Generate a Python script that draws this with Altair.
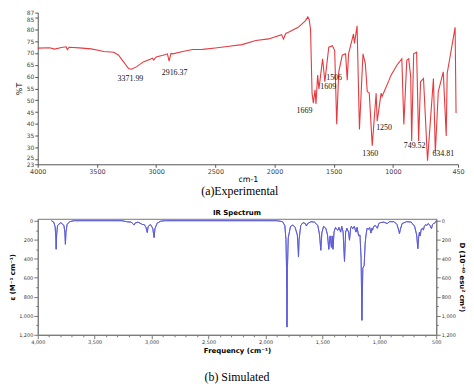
import altair as alt
import pandas as pd

# ---------- Experimental spectrum ----------
exp_wn = [4000, 3900, 3858, 3800, 3760, 3750, 3735, 3650, 3550, 3480, 3442, 3358, 3317, 3275,
          3233, 3208, 3167, 3108, 3050, 3030, 3020, 3000, 2942, 2905, 2890, 2875, 2858, 2775,
          2692, 2608, 2500, 2383, 2275, 2158, 2050, 1940, 1925, 1905, 1883, 1800, 1740, 1719,
          1708, 1696, 1683, 1672, 1658, 1650, 1636, 1625, 1594, 1575, 1542, 1511, 1492, 1475,
          1458, 1428, 1400, 1386, 1375, 1333, 1325, 1303, 1283, 1253, 1233, 1217, 1200, 1175,
          1142, 1133, 1100, 1092, 1033, 1017, 967, 925, 908, 883, 867, 850, 842, 825, 800, 783,
          767, 742, 708, 658, 642, 617, 575, 550, 542, 475, 467]
exp_t = [72.0, 72.2, 71.6, 72.3, 72.6, 71.4, 72.4, 72.1, 71.7, 71.0, 70.6, 70.3, 69.0, 66.2,
         63.4, 63.1, 64.1, 66.2, 67.3, 67.8, 67.0, 68.3, 69.0, 69.6, 66.5, 69.8, 69.6, 70.6,
         71.4, 71.5, 72.1, 72.8, 73.5, 75.2, 75.9, 77.7, 75.8, 78.2, 78.7, 80.8, 83.5, 85.2,
         84.2, 80.0, 52.8, 48.8, 54.4, 48.5, 60.7, 54.8, 67.5, 57.8, 72.4, 73.0, 71.0, 39.9,
         62.0, 69.0, 69.6, 58.5, 69.6, 78.0, 74.0, 81.4, 37.7, 69.6, 65.4, 53.7, 53.0, 30.8,
         53.0, 41.2, 53.0, 51.6, 58.5, 60.5, 64.8, 67.5, 39.8, 66.9, 67.5, 60.0, 32.8, 69.6, 70.3, 32.8,
         57.8, 59.2, 24.5, 59.2, 28.0, 53.7, 62.0, 34.9, 61.3, 80.8, 44.6]

lab_text = ["3371.99", "2916.37", "1669", "1609", "1506", "1250", "1360", "749.52", "634.81"]
lab_wn = [3217, 2844, 1747, 1547, 1497, 1075, 1192, 817, 575]
lab_t = [58.8, 61.3, 45.3, 55.5, 59.6, 38.1, 27.5, 30.5, 27.5]

exp_xticks = [4000, 3500, 3000, 2500, 2000, 1500, 1000, 450]
exp_yticks = [23, 25, 30, 35, 40, 45, 50, 55, 60, 65, 70, 75, 80, 85, 87]

# ---------- Simulated spectrum ----------
sim_wn = [3880, 3860, 3848, 3842, 3838, 3834, 3826, 3797, 3770, 3762, 3757, 3752, 3742, 3720,
          3680, 3260, 3230, 3212, 3180, 3165, 3154, 3145, 3120, 3095, 3080, 3065, 3050, 3038,
          3030, 3010, 2990, 2978, 2970, 2950, 2920, 2880, 1900, 1850, 1830, 1820, 1815, 1811,
          1807, 1800, 1780, 1760, 1740, 1720, 1713, 1710, 1705, 1690, 1670, 1650, 1640, 1630,
          1600, 1570, 1540, 1525, 1514, 1505, 1490, 1470, 1455, 1444, 1432, 1421, 1414, 1407,
          1398, 1385, 1375, 1364, 1355, 1340, 1330, 1318, 1306, 1296, 1285, 1270, 1262, 1252,
          1245, 1234, 1220, 1205, 1195, 1182, 1170, 1160, 1153, 1145, 1133, 1125, 1118, 1108,
          1095, 1085, 1074, 1066, 1060, 1050, 1035, 1017, 1005, 990, 960, 931, 910, 870, 845,
          830, 823, 815, 800, 760, 720, 690, 672, 662, 655, 648, 641, 632, 620, 613, 605, 592,
          584, 570, 555, 545, 541, 533, 525, 517, 505, 500]
sim_d = [0, 15, 60, 150, 300, 150, 50, 20, 50, 120, 248, 120, 40, 10,
         0, 0, 8, 12, 15, 30, 46, 25, 15, 30, 40, 40, 70, 124,
         60, 40, 80, 177, 80, 25, 5, 0, 0, 10, 50, 200, 500, 1119,
         500, 180, 60, 45, 70, 150, 300, 382, 200, 50, 20, 30, 56, 30,
         10, 15, 50, 150, 311, 130, 60, 80, 150, 301, 160, 280, 160, 300,
         120, 70, 90, 100, 70, 120, 60, 120, 428, 120, 80, 120, 205, 80,
         60, 85, 60, 120, 70, 160, 150, 400, 1048, 500, 470, 250, 160, 80,
         90, 70, 130, 80, 100, 60, 50, 80, 30, 20, 15, 30, 10, 10, 40,
         100, 135, 90, 30, 10, 15, 60, 150, 294, 180, 120, 160, 90, 80, 99, 60, 40,
         50, 30, 50, 80, 80, 40, 30, 30, 10, 0]

sim_xticks = list(range(4000, 499, -100))
sim_yticks = list(range(0, 1201, 100))

exp_df = pd.DataFrame({"wn": exp_wn, "t": exp_t, "i": range(len(exp_wn))})
lab_df = pd.DataFrame({"wn": lab_wn, "t": lab_t, "label": lab_text})
sim_df = pd.DataFrame({"wn": sim_wn, "d": sim_d, "i": range(len(sim_wn))})

# ---------- top panel ----------
ex_xscale = alt.Scale(domain=[450, 4000], reverse=True, nice=False, zero=False)
ex_yscale = alt.Scale(domain=[23, 87], nice=False, zero=False)
ex_xaxis = alt.Axis(values=exp_xticks, title="cm-1", format="d", labelFontSize=6.5,
                    labelColor="#444", labelFont="DejaVu Sans", titleFont="DejaVu Sans",
                    titleFontSize=8, titleFontWeight="normal", titlePadding=1,
                    tickSize=3, domainColor="#555", tickColor="#555", labelPadding=1,
                    labelFlush=False, labelOverlap=False, grid=False)
ex_yaxis = alt.Axis(values=exp_yticks, title="%T", labelFontSize=6, labelColor="#444",
                    labelFont="DejaVu Sans", titleFont="DejaVu Sans", titleFontSize=8,
                    titleFontWeight="normal", titlePadding=3, tickSize=3,
                    domainColor="#555", tickColor="#555", labelPadding=1,
                    labelOffset={"condition": [{"test": "datum.value === 85", "value": 2.5},
                                               {"test": "datum.value === 25", "value": -2.5}],
                                 "value": 0},
                    labelOverlap=False, labelBound=False, grid=False)

exp_line = alt.Chart(exp_df).mark_line(color="#e63a3f", strokeWidth=1.1).encode(
    x=alt.X("wn:Q", scale=ex_xscale, axis=ex_xaxis),
    y=alt.Y("t:Q", scale=ex_yscale, axis=ex_yaxis),
    order="i:Q")
exp_text = alt.Chart(lab_df).mark_text(font="Liberation Serif", fontSize=8, color="#111").encode(
    x=alt.X("wn:Q", scale=ex_xscale, axis=ex_xaxis),
    y=alt.Y("t:Q", scale=ex_yscale, axis=ex_yaxis),
    text="label:N")

top = alt.layer(exp_line, exp_text).properties(
    width=424, height=153,
    view=alt.ViewBackground(stroke=None),
    title=alt.TitleParams("(a)Experimental", orient="bottom", font="Liberation Serif",
                          fontSize=12, fontWeight="normal", color="#000", anchor="middle",
                          frame="bounds", offset=2))

# ---------- bottom panel ----------
sim_x = alt.X("wn:Q", scale=alt.Scale(domain=[500, 4000], reverse=True, nice=False, zero=False),
              axis=alt.Axis(values=sim_xticks, title="Frequency (cm⁻¹)",
                            labelExpr="datum.value % 500 === 0 ? format(datum.value, ',') : ''",
                            tickSize={"condition": {"test": "datum.value % 500 === 0", "value": 4}, "value": 2},
                            labelFontSize=5, labelFont="DejaVu Sans", labelColor="#333",
                            titleFont="DejaVu Sans", titleFontSize=7, titleFontWeight="bold",
                            titlePadding=2, labelPadding=1, domainColor="#777", tickColor="#777",
                            grid=False, labelFlush=False, labelOverlap=False))
ax_common = dict(values=sim_yticks,
                 labelExpr="datum.value % 200 === 0 ? format(datum.value, ',') : ''",
                 tickSize={"condition": {"test": "datum.value % 200 === 0", "value": 4}, "value": 2},
                 labelFontSize=5, labelFont="DejaVu Sans", labelColor="#333",
                 titleFont="DejaVu Sans", titleFontSize=7, titleFontWeight="bold",
                 titlePadding=3, labelPadding=1, domainColor="#777", tickColor="#777",
                 grid=False, labelOverlap=False)
sim_scale = alt.Scale(domain=[-20, 1200], reverse=True, nice=False, zero=False)

sim_left = alt.Chart(sim_df).mark_line(color="#5b5bd9", strokeWidth=0.9).encode(
    x=sim_x,
    y=alt.Y("d:Q", scale=sim_scale, axis=alt.Axis(title="ε (M⁻¹ cm⁻¹)", orient="left", **ax_common)),
    order="i:Q")
sim_right = alt.Chart(sim_df).mark_line(color="#5b5bd9", strokeWidth=0.9).encode(
    x=sim_x,
    y=alt.Y("d:Q", scale=sim_scale,
            axis=alt.Axis(title="D (10⁻⁴⁰ esu² cm²)", orient="right", **ax_common)),
    order="i:Q")

bottom = alt.layer(sim_left, sim_right).resolve_scale(y="independent").properties(
    width=402, height=117,
    view=alt.ViewBackground(stroke="#777", strokeWidth=1),
    title=alt.TitleParams("IR Spectrum", font="DejaVu Sans", fontSize=7, fontWeight="bold",
                          anchor="middle", offset=3, color="#000"))

chart = alt.vconcat(top, bottom, spacing=11).properties(
    padding={"left": 0, "top": 0, "right": 0, "bottom": 0},
    title=alt.TitleParams("(b) Simulated", orient="bottom", font="Liberation Serif",
                          fontSize=12, fontWeight="normal", color="#000", anchor="middle",
                          frame="bounds", offset=18))

chart.save("out.html", embed_options={"renderer": "svg", "actions": False})
